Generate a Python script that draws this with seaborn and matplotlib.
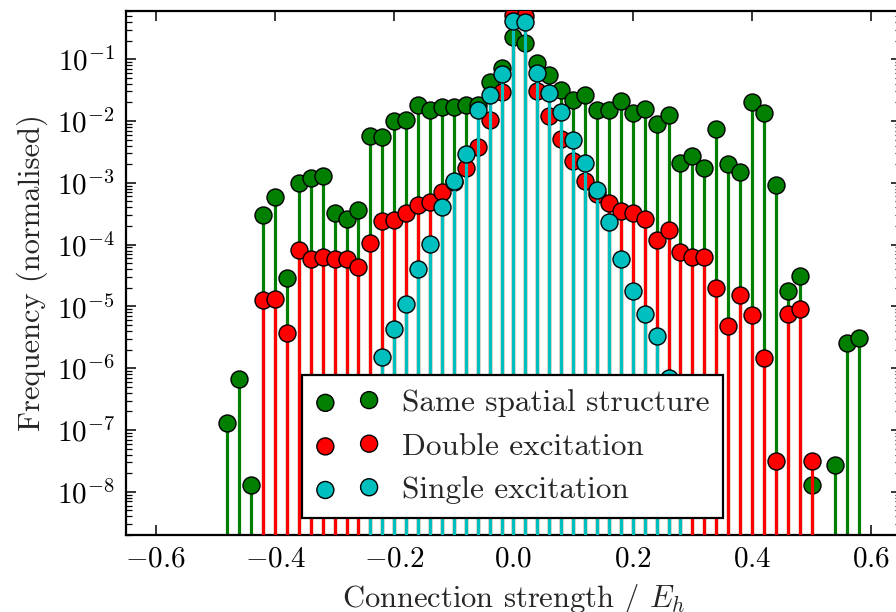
import numpy as np
import pandas as pd
import matplotlib
matplotlib.use("Agg")
import matplotlib.pyplot as plt
import seaborn as sns
from matplotlib.ticker import LogLocator, MultipleLocator, NullFormatter

# Histogram of connection strengths (bin positions in E_h, normalised frequencies)
same_x = [-0.48, -0.46, -0.44, -0.42, -0.40, -0.38, -0.36, -0.34, -0.32, -0.30,
          -0.28, -0.26, -0.24, -0.22, -0.20, -0.18, -0.16, -0.14, -0.12, -0.10,
          -0.08, -0.06, -0.04, -0.02, 0.00, 0.02, 0.04, 0.06, 0.08, 0.10,
          0.12, 0.14, 0.16, 0.18, 0.20, 0.22, 0.24, 0.26, 0.28, 0.30,
          0.32, 0.34, 0.36, 0.38, 0.40, 0.42, 0.44, 0.46, 0.48, 0.50,
          0.54, 0.56, 0.58]
same_freq = [1.3e-7, 6.6e-7, 1.3e-8, 3.0e-4, 5.8e-4, 2.9e-5, 1.0e-3, 1.2e-3, 1.3e-3, 3.3e-4,
             2.6e-4, 3.6e-4, 5.8e-3, 5.5e-3, 1.0e-2, 1.03e-2, 1.8e-2, 1.5e-2, 1.7e-2, 1.7e-2,
             1.8e-2, 1.8e-2, 4.2e-2, 7.1e-2, 0.23, 0.185, 8.6e-2, 5.6e-2, 3.2e-2, 2.2e-2,
             2.6e-2, 1.5e-2, 1.5e-2, 2.1e-2, 1.33e-2, 1.55e-2, 8.8e-3, 1.25e-2, 2.1e-3, 2.7e-3,
             1.7e-3, 7.4e-3, 2.0e-3, 1.5e-3, 2.0e-2, 1.33e-2, 9.2e-4, 1.8e-5, 3.1e-5, 1.3e-8,
             2.7e-8, 2.6e-6, 3.1e-6]

double_x = [-0.42, -0.40, -0.38, -0.36, -0.34, -0.32, -0.30, -0.28, -0.26, -0.24,
            -0.22, -0.20, -0.18, -0.16, -0.14, -0.12, -0.10, -0.08, -0.06, -0.04,
            -0.02, 0.00, 0.02, 0.04, 0.06, 0.08, 0.10, 0.12, 0.14, 0.16,
            0.18, 0.20, 0.22, 0.24, 0.26, 0.28, 0.30, 0.32, 0.34, 0.36,
            0.38, 0.40, 0.42, 0.44, 0.46, 0.48, 0.50]
double_freq = [1.25e-5, 1.34e-5, 3.7e-6, 8.2e-5, 5.8e-5, 6.2e-5, 5.8e-5, 5.8e-5, 4.3e-5, 1.07e-4,
               2.4e-4, 2.45e-4, 3.3e-4, 4.3e-4, 4.8e-4, 7.2e-4, 1.04e-3, 1.7e-3, 3.8e-3, 1.03e-2,
               2.9e-2, 0.52, 0.50, 3.1e-2, 1.2e-2, 5.1e-3, 2.25e-3, 1.08e-3, 6.5e-4, 4.7e-4,
               3.5e-4, 3.2e-4, 2.6e-4, 1.17e-4, 1.7e-4, 7.7e-5, 6.4e-5, 6.4e-5, 2.0e-5, 4.9e-6,
               1.55e-5, 7.2e-6, 1.47e-6, 3.2e-8, 7.4e-6, 9.2e-6, 3.1e-8]

single_x = [-0.24, -0.22, -0.20, -0.18, -0.16, -0.14, -0.12, -0.10, -0.08, -0.06,
            -0.04, -0.02, 0.00, 0.02, 0.04, 0.06, 0.08, 0.10, 0.12, 0.14,
            0.16, 0.18, 0.20, 0.22, 0.24, 0.26, 0.28]
single_freq = [4.0e-7, 1.5e-6, 4.3e-6, 1.09e-5, 4.0e-5, 1.03e-4, 4.0e-4, 1.05e-3, 2.9e-3, 1.5e-2,
               2.6e-2, 5.8e-2, 0.42, 0.40, 6.0e-2, 2.8e-2, 1.42e-2, 4.9e-3, 2.06e-3, 7.6e-4,
               2.3e-4, 5.8e-5, 1.76e-5, 7.4e-6, 3.3e-6, 7.0e-7, 2.0e-7]

series = [
    ("Same spatial structure", same_x, same_freq, "#007f00"),
    ("Double excitation", double_x, double_freq, "#ff0000"),
    ("Single excitation", single_x, single_freq, "#00bfbf"),
]

sns.set_style("ticks")
plt.rcParams.update({
    "font.family": ["cmr10"],
    "mathtext.fontset": "cm",
    "axes.formatter.use_mathtext": True,
    "axes.unicode_minus": True,
    "axes.linewidth": 1.6,
    "axes.edgecolor": "black",
    "xtick.direction": "in",
    "ytick.direction": "in",
    "xtick.major.size": 7,
    "ytick.major.size": 7,
    "ytick.minor.size": 4,
    "xtick.major.width": 1.1,
    "ytick.major.width": 1.1,
    "ytick.minor.width": 0.9,
    "xtick.color": "black",
    "ytick.color": "black",
})

fig = plt.figure(figsize=(8.96, 6.12), dpi=100)
ax = fig.add_axes([0.1406, 0.1258, 0.865, 0.8562])

for i, (label, xs, ys, color) in enumerate(series):
    df = pd.DataFrame({"strength": xs, "freq": ys})
    ax.vlines(df["strength"], 1e-12, df["freq"], colors=color, linewidth=2.3,
              zorder=2 + 2 * i)
    sns.scatterplot(data=df, x="strength", y="freq", ax=ax, color=color,
                    s=150, edgecolor="black", linewidth=1.0, label=label,
                    zorder=3 + 2 * i)

ax.set_yscale("log")
ax.set_xlim(-0.65, 0.65)
ax.set_ylim(2e-9, 0.6)
ax.xaxis.set_major_locator(MultipleLocator(0.2))
ax.yaxis.set_major_locator(LogLocator(base=10, numticks=20))
ax.yaxis.set_minor_locator(LogLocator(base=10, subs=np.arange(2, 10), numticks=20))
ax.yaxis.set_minor_formatter(NullFormatter())
ax.tick_params(which="both", top=True, right=True, labelsize=21, pad=8)

ax.set_xlabel("Connection strength / $E_h$", fontsize=22, labelpad=7)
ax.set_ylabel("Frequency (normalised)", fontsize=22, labelpad=6)

leg = ax.legend(loc="lower left", bbox_to_anchor=(0.227, 0.032), borderaxespad=0,
                scatterpoints=2, fontsize=22.5, frameon=True, fancybox=False,
                framealpha=1, edgecolor="black", borderpad=0.45, handletextpad=0.75,
                labelspacing=0.5, handlelength=2.0, markerscale=1.0)
leg.get_frame().set_linewidth(1.6)
leg.set_zorder(20)

fig.savefig("out.png", dpi=100)
